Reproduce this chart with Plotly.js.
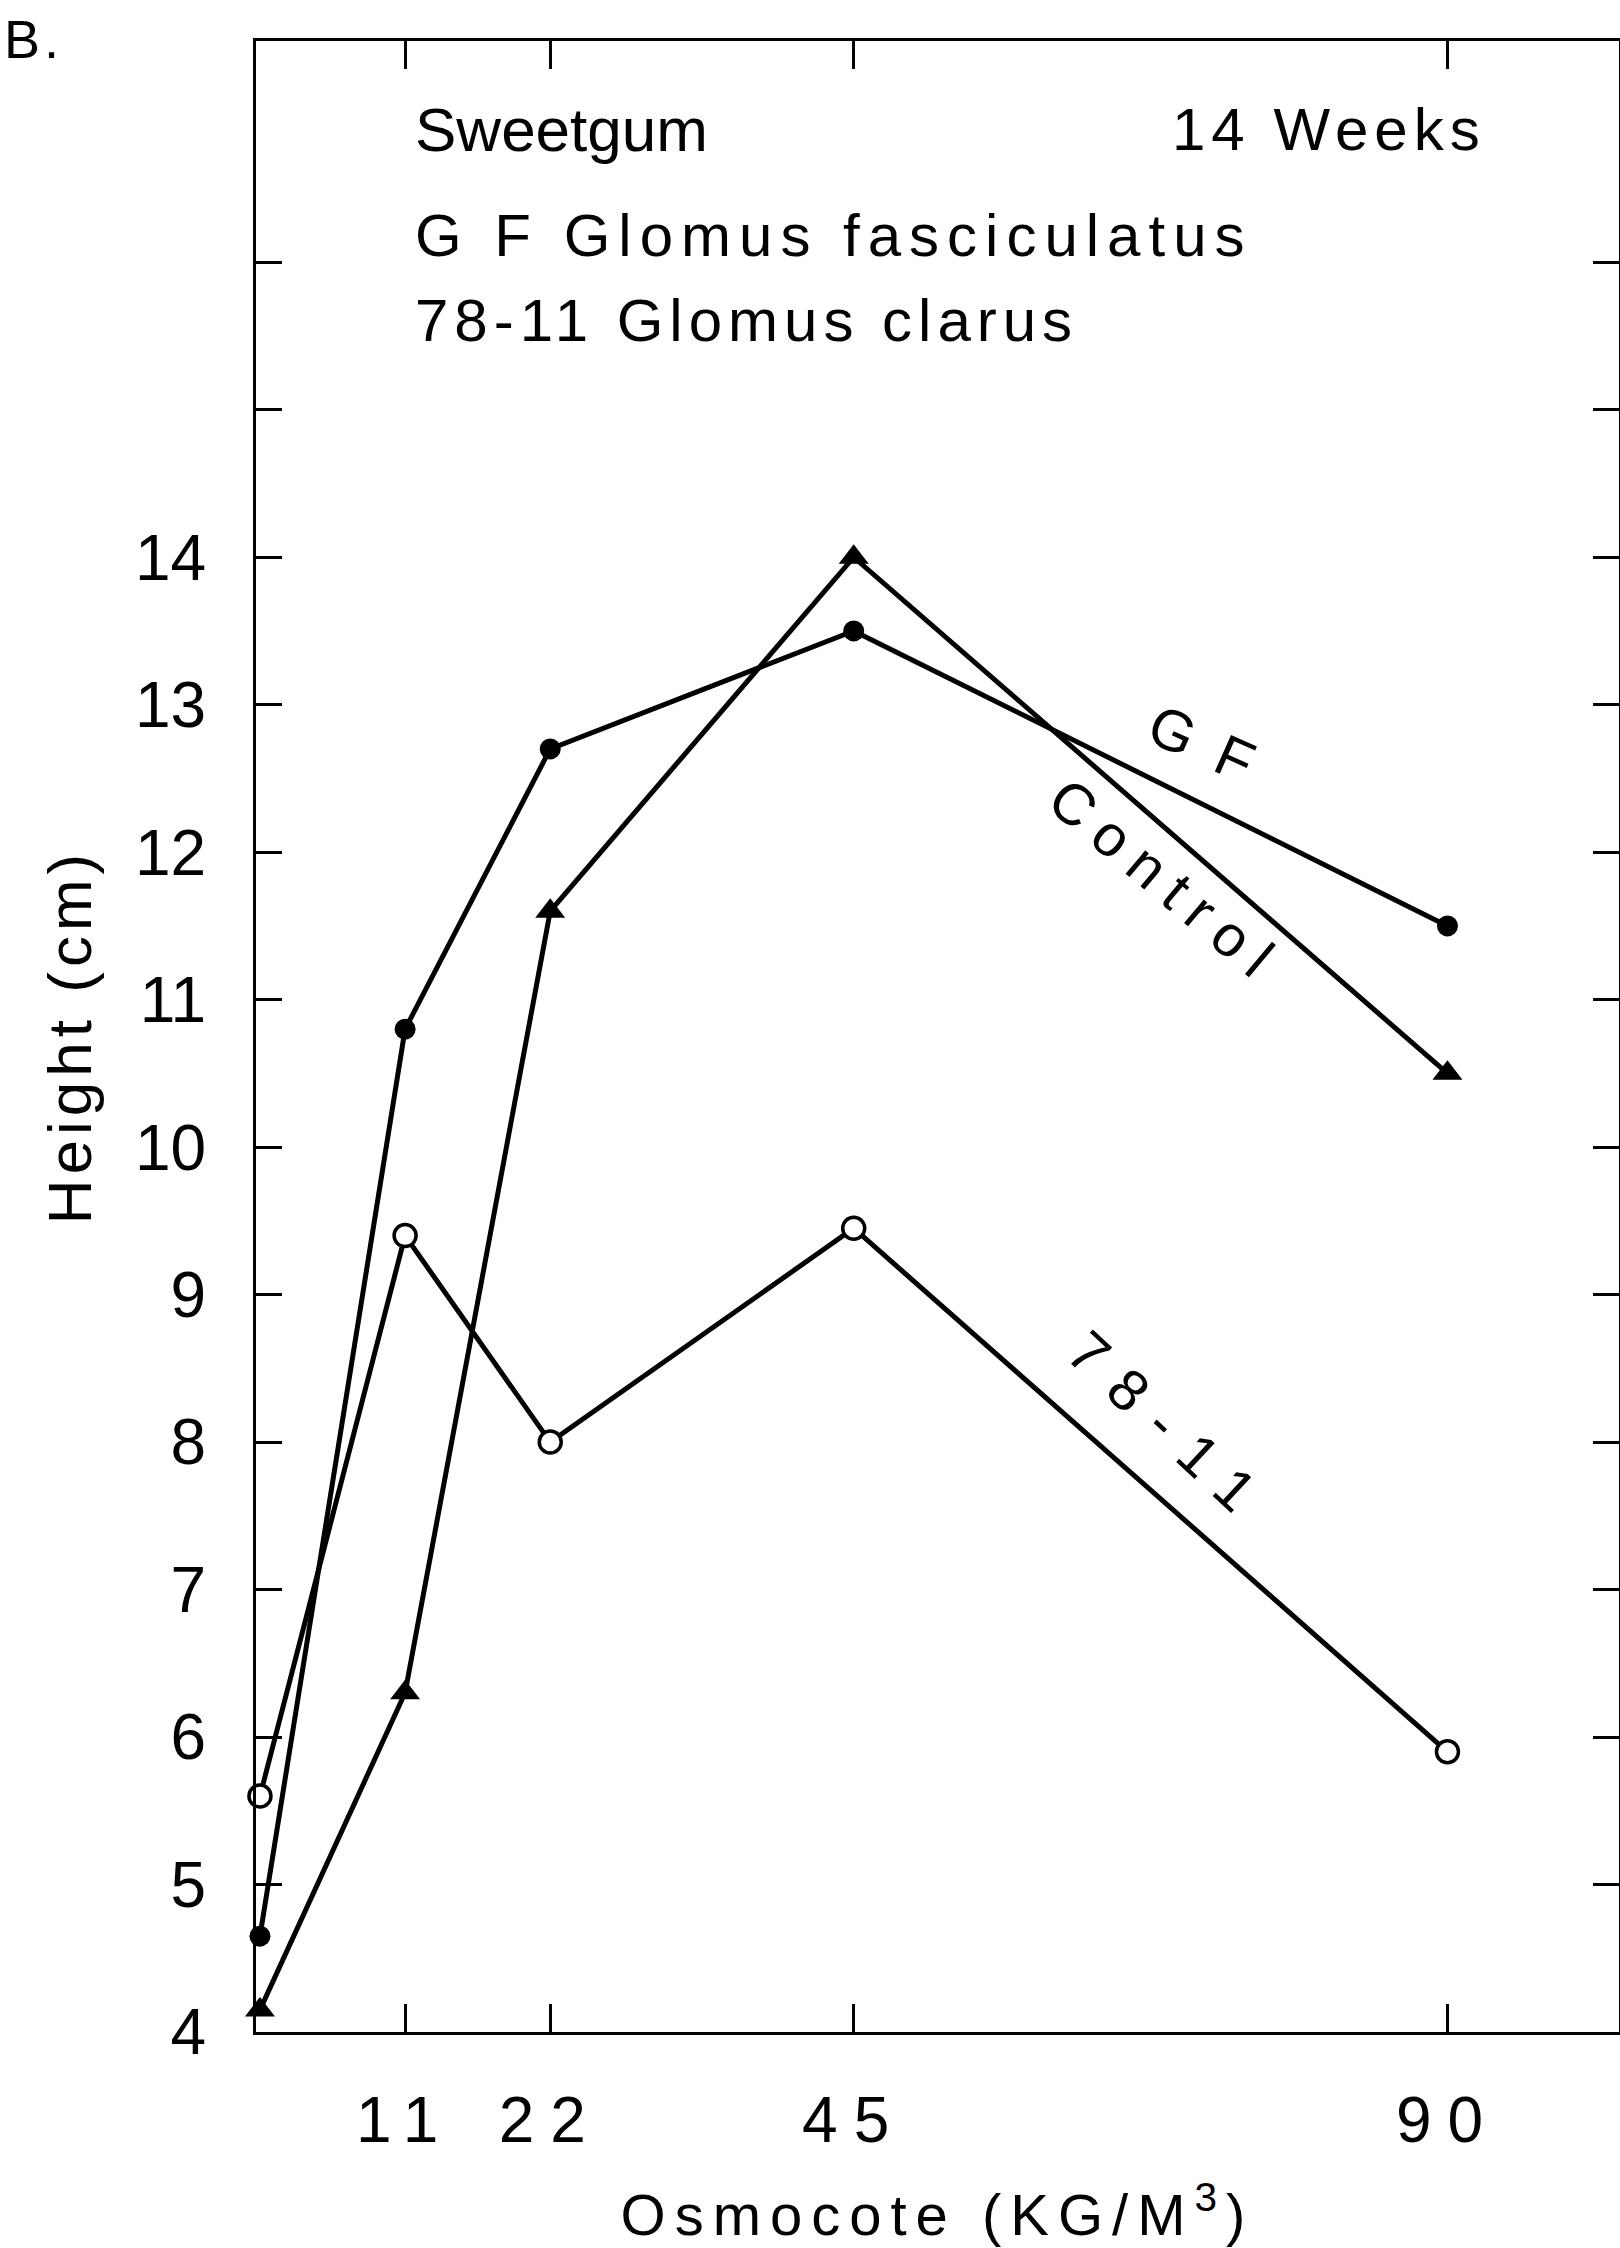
<!DOCTYPE html>
<html>
<head>
<meta charset="utf-8">
<script src="https://cdn.plot.ly/plotly-3.0.1.min.js"></script>
<style>
  html, body { margin: 0; padding: 0; background: #fff; }
  #chart { width: 1620px; height: 2248px; }
  text.annotation-text { letter-spacing: 6px; }
  .annotation[data-index="0"] text.annotation-text { letter-spacing: 4px; }
  .annotation[data-index="1"] text.annotation-text { letter-spacing: 0px; }
  .annotation[data-index="3"] text.annotation-text { letter-spacing: 8px; }
  .annotation[data-index="5"] text.annotation-text { letter-spacing: 6px; }
  .annotation[data-index="6"] text.annotation-text { letter-spacing: 14px; }
  .annotation[data-index="7"] text.annotation-text { letter-spacing: 22px; }
  .xtick text { letter-spacing: 16px; }
  .g-xtitle text { letter-spacing: 9px; }
  .g-ytitle text { letter-spacing: 5px; }
</style>
</head>
<body>
<div id="chart"></div>
<script>
// Osmocote rate (kg/m^3)
const osmocote = [0, 11, 22, 45, 90];
// Seedling height (cm) at 14 weeks
const heightGF = [4.65, 10.8, 12.7, 13.5, 11.5];
const heightControl = [4.15, 6.3, 11.6, 14.0, 10.5];
const height7811 = [5.6, 9.4, 8.0, 9.45, 5.9];

const xTickVals = [11, 22, 45, 90];
const xTickText = ['11', '22', '45', '90'];
const yTickVals = [4, 5, 6, 7, 8, 9, 10, 11, 12, 13, 14];
const yTickText = ['4', '5', '6', '7', '8', '9', '10', '11', '12', '13', '14'];
const yUnlabeledTicks = [15, 16];

const lineLabels = ['G F', 'Control', '78-11'];
const lineLabelX = [71.6, 68.7, 69.0];
const lineLabelY = [12.73, 11.80, 8.09];
const lineLabelAngle = [24, 40, 43];

const ink = '#000000';
const fontMain = 'Liberation Sans, Arial, sans-serif';

const traces = [
  {
    name: 'G F', x: osmocote, y: heightGF, type: 'scatter', mode: 'lines+markers',
    cliponaxis: false,
    line: {color: ink, width: 5},
    marker: {symbol: 'circle', size: 21, color: ink}
  },
  {
    name: 'Control', x: osmocote, y: heightControl, type: 'scatter', mode: 'lines+markers',
    cliponaxis: false,
    line: {color: ink, width: 5},
    marker: {symbol: 'triangle-up', size: 26, color: ink}
  },
  {
    name: '78-11', x: osmocote, y: height7811, type: 'scatter', mode: 'lines+markers',
    cliponaxis: false,
    line: {color: ink, width: 5},
    marker: {symbol: 'circle', size: 22, color: '#ffffff', line: {color: ink, width: 3.5}}
  }
];

const annotations = [
  {text: 'B.', xref: 'paper', yref: 'paper', x: -0.1862, y: 1.0172, xanchor: 'left', yanchor: 'top',
   align: 'left', showarrow: false, font: {family: fontMain, size: 54, color: ink}},
  {text: 'Sweetgum', xref: 'paper', yref: 'paper', x: 0.1152, y: 0.9553, xanchor: 'left', yanchor: 'middle',
   align: 'left', showarrow: false, font: {family: fontMain, size: 62, color: ink}},
  {text: '14 Weeks', xref: 'paper', yref: 'paper', x: 0.9039, y: 0.9553, xanchor: 'right', yanchor: 'middle',
   align: 'right', showarrow: false, font: {family: fontMain, size: 60, color: ink}},
  {text: 'G F Glomus fasciculatus', xref: 'paper', yref: 'paper', x: 0.1152, y: 0.9025, xanchor: 'left', yanchor: 'middle',
   align: 'left', showarrow: false, font: {family: fontMain, size: 60, color: ink}},
  {text: '78-11 Glomus clarus', xref: 'paper', yref: 'paper', x: 0.1152, y: 0.8595, xanchor: 'left', yanchor: 'middle',
   align: 'left', showarrow: false, font: {family: fontMain, size: 60, color: ink}}
];
for (let i = 0; i < lineLabels.length; i++) {
  annotations.push({
    text: lineLabels[i], x: lineLabelX[i], y: lineLabelY[i], xref: 'x', yref: 'y',
    xanchor: 'center', yanchor: 'middle', showarrow: false, textangle: lineLabelAngle[i],
    font: {family: fontMain, size: 58, color: ink}
  });
}

const layout = {
  width: 1620, height: 2248,
  margin: {l: 256, r: 1, t: 41, b: 216, pad: 0},
  paper_bgcolor: '#ffffff', plot_bgcolor: '#ffffff',
  showlegend: false,
  font: {family: fontMain, color: ink},
  xaxis: {
    range: [-0.3, 103], showgrid: false, zeroline: false,
    showline: true, linecolor: ink, linewidth: 3, mirror: 'ticks',
    ticks: 'inside', ticklen: 28, tickwidth: 3, tickcolor: ink,
    tickmode: 'array', tickvals: xTickVals, ticktext: xTickText,
    tickfont: {family: fontMain, size: 64, color: ink},
    ticklabelstandoff: 30,
    title: {text: 'Osmocote (KG/M<sup>3</sup>)', font: {family: fontMain, size: 58, color: ink}, standoff: 40}
  },
  yaxis: {
    range: [4, 17.5], showgrid: false, zeroline: false,
    showline: true, linecolor: ink, linewidth: 3, mirror: 'ticks',
    ticks: 'inside', ticklen: 26, tickwidth: 3, tickcolor: ink,
    tickmode: 'array', tickvals: yTickVals, ticktext: yTickText,
    minor: {tickmode: 'array', tickvals: yUnlabeledTicks, ticks: 'inside', ticklen: 26, tickwidth: 3, tickcolor: ink, showgrid: false},
    tickfont: {family: 'Liberation Sans Narrow, ' + fontMain, size: 64, color: ink},
    ticklabelstandoff: 34,
    title: {text: 'Height (cm)', font: {family: fontMain, size: 62, color: ink}, standoff: 24}
  },
  annotations: annotations
};

Plotly.newPlot('chart', traces, layout, {displayModeBar: false, staticPlot: true});
</script>
</body>
</html>
